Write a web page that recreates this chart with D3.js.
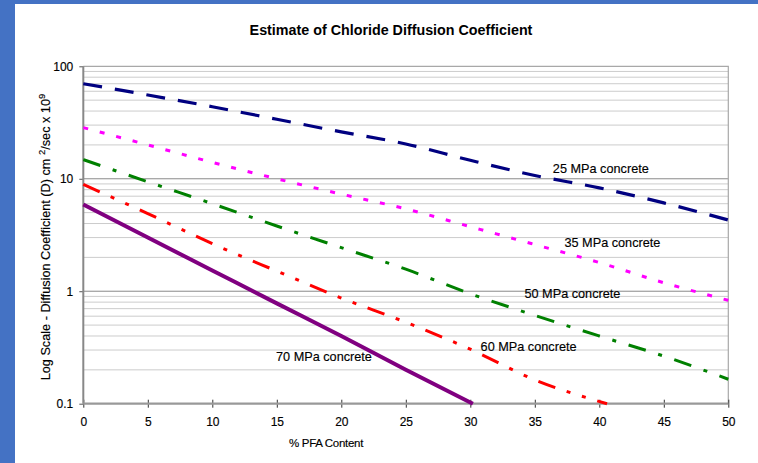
<!DOCTYPE html>
<html>
<head>
  <meta charset="utf-8">
  <title>Estimate of Chloride Diffusion Coefficient</title>
  <script src="https://d3js.org/d3.v7.min.js"></script>
  <style>
    body { margin: 0; background: #fff; }
    svg { display: block; font-family: "Liberation Sans", Arial, sans-serif; }
    .tick text { font-size: 12px; fill: #000; stroke: #000; stroke-width: 0.15px; }
    .label { font-size: 12.7px; fill: #000; stroke: #000; stroke-width: 0.15px; }
  </style>
</head>
<body>
  <script>
    // values (% PFA vs D)
    var pfa = [0, 5, 10, 15, 20, 25, 30, 35, 40, 45, 50];
    var d25 = [70, 55.6, 43.7, 33.8, 26.1, 20.4, 14.6, 10.7, 8.3, 6.1, 4.3];
    var d35 = [28.5, 20, 14, 10, 7.3, 5.4, 3.75, 2.6, 1.8, 1.19, 0.83];
    var d50 = [14.8, 9.4, 6.0, 3.8, 2.44, 1.57, 0.95, 0.61, 0.40, 0.265, 0.165];
    var pfa60 = [0, 5, 10, 15, 20, 25, 30, 35, 40.6];
    var d60 = [8.9, 4.9, 2.65, 1.51, 0.87, 0.53, 0.305, 0.163, 0.1];
    var pfa70 = [0, 5, 10, 15, 20, 25, 30.2];
    var d70 = [5.9, 3.0, 1.53, 0.78, 0.40, 0.20, 0.1];

    var xTicks = [0, 5, 10, 15, 20, 25, 30, 35, 40, 45, 50];
    var yTicks = [0.1, 1, 10, 100];

    var series = [
      { name: "25 MPa concrete", xs: pfa, ys: d25, color: "#000080", width: 3.2, dash: "19,13", lx: 36.4, ly: 11.3 },
      { name: "35 MPa concrete", xs: pfa, ys: d35, color: "#ff00ff", width: 3, dash: "5,12", lx: 37.3, ly: 2.49 },
      { name: "50 MPa concrete", xs: pfa, ys: d50, color: "#008000", width: 3, dash: "18,13,4,13", lx: 34.2, ly: 0.867 },
      { name: "60 MPa concrete", xs: pfa60, ys: d60, color: "#ff0000", width: 3, dash: "18,12,4,12,4,12", lx: 30.8, ly: 0.294 },
      { name: "70 MPa concrete", xs: pfa70, ys: d70, color: "#800080", width: 4, dash: null, lx: 14.94, ly: 0.24 }
    ];

    var W = 758, H = 463;
    var pL = 83.3, pR = 728.3, pT = 66.3, pB = 403.7;

    var x = d3.scaleLinear().domain([0, 50]).range([pL, pR]);
    var y = d3.scaleLog().domain([0.1, 100]).range([pB, pT]);

    var svg = d3.select("body").append("svg")
        .attr("width", W)
        .attr("height", H);

    // blue frame on left and top
    svg.append("rect").attr("x", 0).attr("y", 0).attr("width", 15).attr("height", H).attr("fill", "#4472c4");
    svg.append("rect").attr("x", 0).attr("y", 0).attr("width", W).attr("height", 4).attr("fill", "#4472c4");

    // title
    svg.append("text")
        .attr("x", 391)
        .attr("y", 35)
        .attr("text-anchor", "middle")
        .style("font-size", "14.3px")
        .style("font-weight", "bold")
        .text("Estimate of Chloride Diffusion Coefficient");

    // gridlines
    var grid = y.ticks().filter(d => d > 0.1 && d < 100);
    svg.append("g").selectAll("line")
        .data(grid)
      .enter().append("line")
        .attr("x1", pL)
        .attr("x2", pR)
        .attr("y1", d => y(d))
        .attr("y2", d => y(d))
        .attr("stroke", d => (Math.abs(d - 1) < 1e-9 || Math.abs(d - 10) < 1e-9) ? "#8a8a8a" : "#cccccc")
        .attr("stroke-width", 1);

    // top and right border
    svg.append("path")
        .attr("d", "M" + pL + "," + pT + "H" + pR + "V" + pB)
        .attr("fill", "none")
        .attr("stroke", "#a8a8a8")
        .attr("stroke-width", 1.2);

    // y axis
    var yAxis = d3.axisLeft(y).tickValues(yTicks).tickFormat(d => d).tickSize(4).tickPadding(6);
    var yg = svg.append("g")
        .attr("transform", "translate(" + pL + ",0)")
        .call(yAxis);
    yg.select(".domain").remove();
    yg.selectAll(".tick line").attr("stroke", "#555");

    // x axis
    var xAxis = d3.axisBottom(x).tickValues(xTicks).tickSize(4).tickPadding(10);
    var xg = svg.append("g")
        .attr("transform", "translate(0," + pB + ")")
        .call(xAxis);
    xg.select(".domain").remove();
    xg.selectAll(".tick line").attr("y1", -4).attr("y2", 4).attr("stroke", "#333");

    // axis lines
    svg.append("line").attr("x1", pL).attr("x2", pL).attr("y1", pT).attr("y2", pB)
        .attr("stroke", "#888").attr("stroke-width", 2);
    svg.append("line").attr("x1", pL).attr("x2", pR).attr("y1", pB).attr("y2", pB)
        .attr("stroke", "#999").attr("stroke-width", 2.2);

    // axis titles
    var yt = svg.append("text")
        .attr("transform", "translate(50,237) rotate(-90)")
        .attr("text-anchor", "middle")
        .style("font-size", "12.7px")
        .style("stroke", "#000")
        .style("stroke-width", "0.15px");
    yt.append("tspan").text("Log Scale - Diffusion Coefficient (D) cm ");
    yt.append("tspan").attr("dy", -5).style("font-size", "9.5px").text("2");
    yt.append("tspan").attr("dy", 5).text("/sec x 10");
    yt.append("tspan").attr("dy", -5).style("font-size", "9.5px").text("9");

    svg.append("text")
        .attr("x", 326)
        .attr("y", 446.5)
        .attr("text-anchor", "middle")
        .style("font-size", "11.5px")
        .style("letter-spacing", "-0.3px")
        .style("stroke", "#000")
        .style("stroke-width", "0.15px")
        .text("% PFA Content");

    // lines
    var line = d3.line()
        .x(d => x(d[0]))
        .y(d => y(d[1]))
        .curve(d3.curveMonotoneX);

    svg.append("g").selectAll("path")
        .data(series)
      .enter().append("path")
        .attr("d", s => line(s.xs.map((v, i) => [v, s.ys[i]])))
        .attr("fill", "none")
        .attr("stroke", s => s.color)
        .attr("stroke-width", s => s.width)
        .attr("stroke-dasharray", s => s.dash);

    // series labels
    svg.append("g").selectAll("text")
        .data(series)
      .enter().append("text")
        .attr("class", "label")
        .attr("x", s => x(s.lx))
        .attr("y", s => y(s.ly))
        .text(s => s.name);
  </script>
</body>
</html>
